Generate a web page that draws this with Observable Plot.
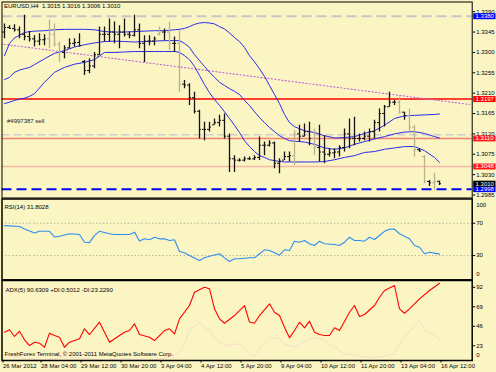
<!DOCTYPE html>
<html><head><meta charset="utf-8">
<script src="https://cdn.jsdelivr.net/npm/d3@7"></script>
<script src="https://cdn.jsdelivr.net/npm/@observablehq/plot@0.6"></script>
<style>
html,body{margin:0;padding:0;background:#fbf5c4;}
#chart{position:relative;width:496px;height:372px;overflow:hidden;background:#fbf5c4;}
#chart svg{position:absolute;left:0;overflow:visible;}
</style></head><body><div id="chart"></div>
<script>
// ---------------- data ----------------
const symbolName = "EURUSD,H4";
const lastOHLC = [1.3015, 1.3016, 1.3006, 1.3010];
const high = [1.3363,1.3359,1.3361,1.3356,1.3382,1.3346,1.3337,1.3341,1.3339,1.3371,
 1.3363,1.3323,1.3315,1.3330,1.3330,1.3341,1.3282,1.3286,1.3300,1.3356,
 1.3356,1.3374,1.3367,1.3359,1.3374,1.3345,1.3382,1.3363,1.3337,1.3337,
 1.3334,1.3356,1.3352,1.3367,1.3334,1.3348,1.3238,1.3231,1.3212,1.3172,
 1.3146,1.3146,1.3153,1.3161,1.3164,1.3120,1.3072,1.3065,1.3069,1.3069,
 1.3072,1.3113,1.3102,1.3105,1.3102,1.3065,1.3080,1.3080,1.3127,1.3139,
 1.3142,1.3146,1.3131,1.3139,1.3116,1.3087,1.3087,1.3094,1.3131,1.3153,
 1.3157,1.3120,1.3124,1.3131,1.3150,1.3175,1.3183,1.3212,1.3194,1.3201,
 1.3168,1.3175,1.3139,1.3087,1.3072,1.3017,1.3033,1.3016];
const low = [1.3330,1.3351,1.3345,1.3330,1.3326,1.3323,1.3312,1.3315,1.3315,1.3308,
 1.3312,1.3278,1.3286,1.3308,1.3312,1.3312,1.3249,1.3253,1.3264,1.3293,
 1.3323,1.3323,1.3319,1.3308,1.3334,1.3330,1.3334,1.3308,1.3278,1.3315,
 1.3315,1.3337,1.3326,1.3304,1.3300,1.3212,1.3220,1.3183,1.3164,1.3109,
 1.3105,1.3124,1.3139,1.3135,1.3109,1.3035,1.3035,1.3058,1.3058,1.3061,
 1.3061,1.3061,1.3072,1.3091,1.3043,1.3032,1.3061,1.3058,1.3050,1.3102,
 1.3113,1.3094,1.3072,1.3058,1.3054,1.3069,1.3065,1.3069,1.3080,1.3087,
 1.3094,1.3102,1.3105,1.3102,1.3109,1.3124,1.3135,1.3179,1.3183,1.3164,
 1.3150,1.3124,1.3069,1.3080,1.3010,1.3004,1.2995,1.3006];
const open = [1.3345,1.3355,1.3353,1.3350,1.3340,1.3335,1.3330,1.3325,1.3328,1.3330,
 1.3340,1.3318,1.3300,1.3310,1.3320,1.3322,1.3280,1.3260,1.3270,1.3295,
 1.3340,1.3340,1.3345,1.3340,1.3345,1.3340,1.3338,1.3350,1.3320,1.3325,
 1.3325,1.3340,1.3345,1.3345,1.3320,1.3320,1.3230,1.3228,1.3200,1.3170,
 1.3130,1.3130,1.3140,1.3145,1.3150,1.3115,1.3065,1.3062,1.3062,1.3065,
 1.3065,1.3068,1.3095,1.3095,1.3100,1.3055,1.3062,1.3070,1.3072,1.3120,
 1.3115,1.3125,1.3110,1.3090,1.3080,1.3075,1.3078,1.3080,1.3090,1.3120,
 1.3110,1.3110,1.3110,1.3115,1.3125,1.3145,1.3165,1.3180,1.3190,1.3190,
 1.3168,1.3160,1.3135,1.3085,1.3070,1.3015,1.3012,1.3015];
const close = [1.3355,1.3353,1.3350,1.3340,1.3335,1.3330,1.3325,1.3328,1.3330,1.3340,
 1.3318,1.3300,1.3310,1.3320,1.3322,1.3315,1.3260,1.3270,1.3295,1.3340,
 1.3340,1.3345,1.3340,1.3345,1.3340,1.3338,1.3350,1.3320,1.3325,1.3325,
 1.3330,1.3345,1.3345,1.3320,1.3320,1.3230,1.3228,1.3200,1.3170,1.3130,
 1.3130,1.3135,1.3145,1.3150,1.3115,1.3065,1.3062,1.3062,1.3065,1.3065,
 1.3068,1.3095,1.3095,1.3100,1.3055,1.3060,1.3070,1.3072,1.3120,1.3115,
 1.3125,1.3110,1.3090,1.3080,1.3075,1.3078,1.3080,1.3090,1.3120,1.3110,
 1.3110,1.3110,1.3115,1.3125,1.3145,1.3165,1.3180,1.3190,1.3190,1.3168,
 1.3160,1.3135,1.3085,1.3082,1.3015,1.3012,1.3015,1.3010];
const lightBars = [9,10,11,31,33,35,58,62,79,81,82,84,86];

const bandIdx = [0,1,2,3,4,5,6,8,10,12,14,16,18,20,22,24,26,28,30,32,34,
 35,36,37,38,39,40,41,42,43,44,45,46,47,48,49,50,51,52,53,54,55,56,57,58,
 60,62,64,66,68,70,72,74,76,78,80,82,84,86,87];
const bandUpper = [1.3293,1.3320,1.3332,1.3338,1.3344,1.3346,1.3347,
 1.3348,1.3350,1.3351,1.3351,1.3351,1.3350,1.3346,1.3345,1.3345,1.3346,1.3347,1.3348,1.3348,1.3350,
 1.3351,1.3353,1.3357,1.3362,1.3365,1.3366,1.3365,1.3363,1.3357,1.3352,1.3343,1.3333,1.3324,1.3311,1.3293,1.3279,1.3264,1.3247,1.3227,1.3207,1.3187,1.3163,1.3145,1.3136,
 1.3127,1.3123,1.3116,1.3111,1.3112,1.3114,1.3121,1.3127,1.3139,1.3154,1.3160,1.3161,1.3162,1.3163,
 1.3164];
const bandMiddle = [1.3240,1.3245,1.3256,1.3261,1.3264,1.3267,1.3273,
 1.3286,1.3298,1.3304,1.3312,1.3317,1.3321,1.3324,1.3325,1.3324,1.3323,1.3324,1.3325,1.3326,1.3326,
 1.3326,1.3320,1.3311,1.3295,1.3282,1.3269,1.3256,1.3245,1.3234,1.3227,1.3220,1.3214,1.3207,1.3194,1.3183,1.3169,1.3156,1.3145,1.3134,1.3125,1.3116,1.3110,1.3105,1.3104,
 1.3102,1.3097,1.3089,1.3086,1.3089,1.3097,1.3103,1.3109,1.3114,1.3120,1.3124,1.3125,1.3121,1.3114,
 1.3111];
const bandLower = [1.3187,1.3190,1.3194,1.3197,1.3199,1.3203,1.3209,
 1.3234,1.3256,1.3267,1.3274,1.3278,1.3284,1.3300,1.3300,1.3301,1.3302,1.3302,1.3302,1.3302,1.3302,
 1.3300,1.3293,1.3284,1.3269,1.3249,1.3229,1.3211,1.3196,1.3183,1.3169,1.3154,1.3139,1.3123,1.3105,1.3092,1.3081,1.3072,1.3068,1.3063,1.3061,1.3059,1.3058,1.3058,1.3058,
 1.3058,1.3058,1.3059,1.3063,1.3068,1.3072,1.3079,1.3081,1.3086,1.3089,1.3092,1.3092,1.3083,1.3068,
 1.3057];

const trendIdx = [-0.8, 93];
const trendPrice = [1.3319, 1.3185];

const levelPrice = [1.3380, 1.3197, 1.3118, 1.3110, 1.3048, 1.2998];
const levelLabel = ["1.3380", "1.3197", "", "1.3110", "1.3048", "1.2998"];
const orderPrice = 1.3118;
const orderText = "#4997387 sell";
const bidPrice = 1.3010;
const priceTicks = [1.3390,1.3345,1.3300,1.3255,1.3210,1.3165,1.3120,1.3075,1.3030,1.2985];

const rsiIdx = [0,3,4,6,7,9,10,11,13,15,16,17,18,19,21,22,25,26,27,28,29,30,31,32,33,34,35,36,37,39,
 40,41,43,44,45,46,47,49,50,51,52,53,54,55,56,57,58,59,60,61,62,63,64,66,67,68,69,70,71,72,
 73,74,75,76,77,78,79,80,81,82,83,84,85,86,87];
const rsiVal = [67,66,63,58,60,60,53,54,57,56,46.5,46,55,60,57,56,56,59,48,50.7,49.5,52.7,50.7,50.7,48.6,49.5,35,33.4,30,24,
 27.2,29.2,32.2,27.2,22.6,26,26,27.2,27.2,32.2,37.1,36.3,33.4,30.5,37.1,36.3,47.8,46.5,48.6,44.6,42.5,47.8,44.6,43.7,42.5,46.5,52.7,48.6,48.6,47.8,
 52.7,49.9,54.8,60,62.5,62.8,57,54,50.7,42.5,40.3,32.2,34,33,31.8];
const rsiLevels = [70, 30];
const rsiTicks = [100, 70, 30, 0];
const rsiTitle = "RSI(14) 31.8028";

const adxIdx = [0,1,2,3,4,5,6,7,8,9,10,11,12,13,15,16,17,19,20,21,23,24,25,26,27,29,30,32,33,34,35,37,38,
 40,41,42,43,44,46,47,48,49,50,51,53,54,55,56,57,58,59,60,61,62,63,64,65,66,67,69,70,71,72,74,75,76,78,79,80,81,83,85,87];
const adxVal = [39,41.9,34,40.2,30.1,23.3,27.2,26.1,21.3,37.9,35.1,33.1,21.3,27.2,31.2,43,36.3,50.8,39,27.2,35.1,39,41,48.9,36.3,33.1,29.2,41,43,37.1,54.8,70.5,86.2,
 92.1,90.2,66.6,54.8,49.6,58.7,64.6,70.5,51,49.6,58.7,72.5,62.6,58.7,44.9,32.4,41,50.8,44.2,52,39,36.3,35.1,35.1,44.2,41,62.6,70.5,57.5,59.9,70.5,80.3,88.2,94.1,66.6,61.4,66.6,78.4,88.2,96.8];
const diIdx = [0,4,8,12,16,20,24,28,32,35,36,37,39,40,41,42,44,47,49,50,51,53,55,56,58,60,62,64,66,68,70,72,75,78,79,80,82,83,84,86,87];
const diVal = [12,8,6,10,8,6,8,6,8,15,25,41,50.8,45,41,33,23.3,25.4,13.6,10,21,33,31,25.4,21.3,27.2,33.1,29.2,21.3,13.6,11.6,9.6,9.6,13.6,25.4,33.1,46.9,52.8,41,37.1,29.2];
const adxTicks = [92, 69, 46, 23, 0];
const adxTitle = "ADX(5) 90.6309 +DI:0.5012 -DI:23.2290";

const timeIdx = [-0.6, 7, 15, 23, 31, 39, 47, 55, 63, 71, 79, 87];
const timeLabels = ["26 Mar 2012","28 Mar 04:00","29 Mar 12:00","30 Mar 20:00","3 Apr 04:00","4 Apr 12:00",
 "5 Apr 20:00","9 Apr 04:00","10 Apr 12:00","11 Apr 20:00","13 Apr 04:00","16 Apr 12:00"];
const footer = "FreshForex Terminal, \u00a9 2001-2011 MetaQuotes Software Corp.";

// ---------------- drawing ----------------
const FONT = '"Liberation Sans", Arial, Helvetica, sans-serif';
const FS = 6;
const W = 496;
const ML = 1.5, MR = 24.3;
const xDomain = [-0.5, 93.54];
const style = {background: "none", fontFamily: FONT, fontSize: FS + "px", color: "#000", overflow: "visible"};

const bars = high.map((h, i) => ({i, high: h, low: low[i], open: open[i], close: close[i], light: lightBars.includes(i)}));
const bands = bandIdx.map((i, k) => ({i, upper: bandUpper[k], middle: bandMiddle[k], lower: bandLower[k]}));
const trend = trendIdx.map((i, k) => ({i, p: trendPrice[k]}));
const barColor = d => d.light ? "#b9b08e" : "#141414";

const levelStyle = [
  {stroke: "#c6c6c6", width: 2, dash: "10,5", box: "#0000ff"},
  {stroke: "#ff0000", width: 1.4, dash: null, box: "#ff0000"},
  {stroke: "#cfcfcf", width: 1.4, dash: "8,4", box: null},
  {stroke: "#f2836f", width: 1.4, dash: null, box: "#ff1a1a"},
  {stroke: "#f6b7a3", width: 1.4, dash: null, box: "#ff1a1a"},
  {stroke: "#0000ff", width: 2, dash: "10,5", box: "#0000ff"}
];
const boxes = levelPrice.map((p, k) => ({p, label: levelLabel[k], color: levelStyle[k].box}))
  .filter(d => d.color)
  .concat([{p: bidPrice, label: bidPrice.toFixed(4), color: "#000000"}]);
const boxSym = {draw(ctx) { ctx.moveTo(1, -3); ctx.lineTo(23.3, -3); ctx.lineTo(23.3, 3); ctx.lineTo(1, 3); ctx.closePath(); }};

const mainPlot = Plot.plot({
  width: W, height: 199, marginLeft: ML, marginRight: MR, marginTop: 1.5, marginBottom: 1.5,
  x: {domain: xDomain, axis: null},
  y: {domain: [1.29784, 1.34114], axis: null},
  color: {type: "identity"},
  style,
  marks: [
    ...levelPrice.map((p, k) => Plot.ruleY([p], {stroke: levelStyle[k].stroke, strokeWidth: levelStyle[k].width, strokeDasharray: levelStyle[k].dash})),
    Plot.line(trend, {x: "i", y: "p", stroke: "#bf66d9", strokeWidth: 1.1, strokeDasharray: "1.3,2.2", clip: true}),
    Plot.line(bands, {x: "i", y: "upper", stroke: "#2a2af0", strokeWidth: 1, clip: true}),
    Plot.line(bands, {x: "i", y: "middle", stroke: "#2a2af0", strokeWidth: 1, clip: true}),
    Plot.line(bands, {x: "i", y: "lower", stroke: "#2a2af0", strokeWidth: 1, clip: true}),
    Plot.ruleX(bars, {x: "i", y1: "low", y2: "high", stroke: barColor, strokeWidth: 1.3, clip: true}),
    Plot.ruleY(bars, {y: "open", x1: d => d.i - 0.4, x2: "i", stroke: barColor, strokeWidth: 1, clip: true}),
    Plot.ruleY(bars, {y: "close", x1: "i", x2: d => d.i + 0.4, stroke: barColor, strokeWidth: 1, clip: true}),
    Plot.text([{p: orderPrice, t: orderText}], {y: "p", text: "t", frameAnchor: "left", dx: 5, dy: -13.8, textAnchor: "start", fill: "#222"}),
    Plot.text([symbolName + "  " + lastOHLC.map(v => v.toFixed(4)).join(" ")], {text: d => d, frameAnchor: "top-left", dx: 2, dy: 4.4, textAnchor: "start", lineAnchor: "middle", fill: "#000"}),
    Plot.axisY(priceTicks, {anchor: "right", label: null, tickFormat: d => d.toFixed(4), tickSize: 2.5, tickPadding: 1.5}),
    Plot.dot(boxes, {y: "p", frameAnchor: "right", symbol: boxSym, r: 3, fill: d => d.color, stroke: "none"}),
    Plot.text(boxes, {y: "p", text: "label", frameAnchor: "right", dx: 3.4, textAnchor: "start", fill: "#ffffff"}),
    Plot.frame({stroke: "#000", strokeWidth: 1})
  ]
});

const rsiPlot = Plot.plot({
  width: W, height: 82, marginLeft: ML, marginRight: MR, marginTop: 0.5, marginBottom: 0.7,
  x: {domain: xDomain, axis: null},
  y: {domain: [0, 100], axis: null},
  style,
  marks: [
    Plot.ruleY(rsiLevels, {stroke: "#b9b49c", strokeDasharray: "1.5,2"}),
    Plot.line(rsiIdx.map((i, k) => ({i, v: rsiVal[k]})), {x: "i", y: "v", stroke: "#2b8ff0", strokeWidth: 1.1, clip: true}),
    Plot.axisY(rsiTicks.filter(t => t > 0 && t < 100), {anchor: "right", label: null, tickSize: 2.5, tickPadding: 1.5}),
    Plot.text([String(rsiTicks[0])], {text: d => d, frameAnchor: "top-right", dx: 4, dy: 4.2, textAnchor: "start", fill: "#000"}),
    Plot.text([String(rsiTicks[3])], {text: d => d, frameAnchor: "bottom-right", dx: 4, dy: -4.3, textAnchor: "start", fill: "#000"}),
    Plot.text([rsiTitle], {text: d => d, frameAnchor: "top-left", dx: 2.5, dy: 5.3, textAnchor: "start", fill: "#000"}),
    Plot.frame({stroke: "#000", strokeWidth: 1.5})
  ]
});

const adxPlot = Plot.plot({
  width: W, height: 93, marginLeft: ML, marginRight: MR, marginTop: 1, marginBottom: 12,
  x: {domain: xDomain, axis: null},
  y: {domain: [5.66, 100], axis: null},
  style,
  marks: [
    Plot.line(diIdx.map((i, k) => ({i, v: diVal[k]})), {x: "i", y: "v", stroke: "#f7dccb", strokeWidth: 1, clip: true}),
    Plot.line(adxIdx.map((i, k) => ({i, v: adxVal[k]})), {x: "i", y: "v", stroke: "#ff0000", strokeWidth: 1.1, clip: true}),
    Plot.axisY(adxTicks.filter(t => t > 0), {anchor: "right", label: null, tickSize: 2.5, tickPadding: 1.5}),
    Plot.text([String(adxTicks[4])], {text: d => d, frameAnchor: "bottom-right", dx: 4, dy: -3.5, textAnchor: "start", fill: "#000"}),
    Plot.axisX(timeIdx, {anchor: "bottom", label: null, tickFormat: d => timeLabels[timeIdx.indexOf(d)], tickSize: 2.5, tickPadding: 1, textAnchor: "start", dx: 1.5}),
    Plot.text([adxTitle], {text: d => d, frameAnchor: "top-left", dx: 3.5, dy: 7, textAnchor: "start", fill: "#000"}),
    Plot.text([footer], {text: d => d, frameAnchor: "bottom-left", dx: 2.5, dy: -4.5, textAnchor: "start", fill: "#000"}),
    Plot.frame({stroke: "#000", strokeWidth: 1.5})
  ]
});

const chart = document.getElementById("chart");
[[mainPlot, 0], [rsiPlot, 198], [adxPlot, 279]].forEach(([svg, top]) => {
  svg.style.top = top + "px";
  chart.appendChild(svg);
});
</script>
</body></html>
